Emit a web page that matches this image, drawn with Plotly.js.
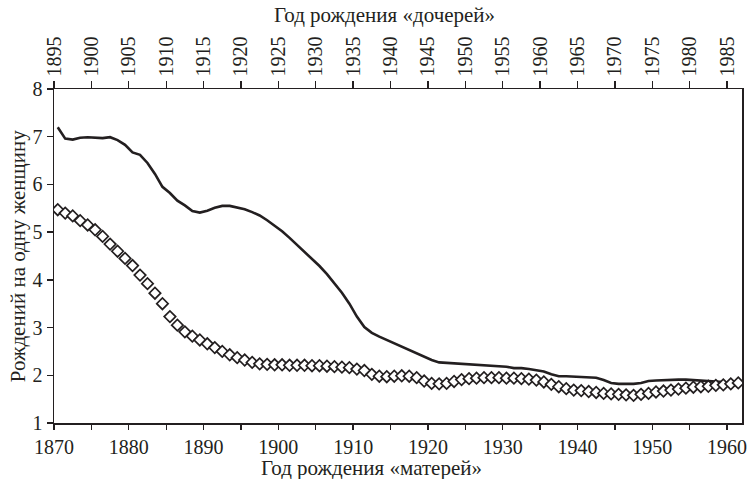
<!DOCTYPE html>
<html>
<head>
<meta charset="utf-8">
<script src="https://cdn.plot.ly/plotly-3.0.1.min.js"></script>
<style>html,body{margin:0;padding:0;background:#fff;}#chart{width:751px;height:479px;}</style>
</head>
<body>
<div id="chart"></div>
<script>
// Birth cohorts of "mothers" (1870–1961); daughters' cohort = mothers' + 25
const motherYears = [];
for (let y = 1870; y <= 1961; y++) motherYears.push(y);

// Solid line series (births per woman), cohorts 1870–1959
const lineValues = [
  7.20, 6.96, 6.94, 6.98, 6.99, 6.98, 6.97, 6.99, 6.93, 6.83,
  6.67, 6.62, 6.45, 6.22, 5.95, 5.82, 5.66, 5.56, 5.44, 5.41,
  5.45, 5.51, 5.55, 5.55, 5.52, 5.48, 5.42, 5.35, 5.25, 5.13,
  5.02, 4.88, 4.73, 4.59, 4.45, 4.29, 4.12, 3.93, 3.73, 3.50,
  3.23, 3.01, 2.89, 2.81, 2.74, 2.66, 2.59, 2.52, 2.46, 2.39,
  2.32, 2.27, 2.26, 2.25, 2.24, 2.23, 2.23, 2.22, 2.21, 2.20,
  2.18, 2.15, 2.15, 2.13, 2.11, 2.08, 2.02, 1.98, 1.98, 1.97,
  1.97, 1.95, 1.95, 1.90, 1.84, 1.82, 1.82, 1.82, 1.84, 1.88,
  1.89, 1.90, 1.90, 1.91, 1.91, 1.90, 1.89, 1.88, 1.87, 1.86
];

// Diamond marker series (births per woman), cohorts 1870–1961
const diamondValues = [
  5.47, 5.40, 5.34, 5.24, 5.15, 5.05, 4.91, 4.75, 4.60, 4.45,
  4.30, 4.10, 3.92, 3.72, 3.50, 3.23, 3.05, 2.91, 2.82, 2.74,
  2.66, 2.58, 2.50, 2.43, 2.37, 2.32, 2.27, 2.24, 2.23, 2.22,
  2.22, 2.21, 2.21, 2.21, 2.20, 2.20, 2.19, 2.18, 2.17, 2.16,
  2.13, 2.10, 2.02, 1.98, 1.97, 1.98, 1.99, 1.98, 1.95, 1.88,
  1.83, 1.82, 1.83, 1.87, 1.91, 1.93, 1.94, 1.95, 1.95, 1.95,
  1.94, 1.94, 1.93, 1.92, 1.90, 1.86, 1.81, 1.76, 1.72, 1.69,
  1.68, 1.66, 1.64, 1.62, 1.61, 1.60, 1.59, 1.58, 1.60, 1.62,
  1.65, 1.67, 1.69, 1.71, 1.73, 1.75, 1.76, 1.77, 1.79, 1.80,
  1.82, 1.84
];

const bottomTickVals = [1870,1875,1880,1885,1890,1895,1900,1905,1910,1915,1920,1925,1930,1935,1940,1945,1950,1955,1960];
const bottomTickText = ["1870","","1880","","1890","","1900","","1910","","1920","","1930","","1940","","1950","","1960"];

const xTitleBottom = "Год рождения «матерей»";
const xTitleTop = "Год рождения «дочерей»";
const yTitle = "Рождений на одну женщину";

const ink = "#231f20";
const serif = "Liberation Serif, Times New Roman, serif";

// cohort mid-year positions
const lineX = motherYears.slice(0, lineValues.length).map(y => y + 0.5);
const diamondX = motherYears.map(y => y + 0.5);

const traces = [
  {
    x: lineX, y: lineValues, type: "scatter", mode: "lines",
    line: {color: ink, width: 2.6}, hoverinfo: "skip", showlegend: false
  },
  {
    x: diamondX, y: diamondValues, type: "scatter", mode: "markers",
    marker: {symbol: "diamond", size: 8.8, color: "#ffffff", line: {color: ink, width: 1.7}},
    hoverinfo: "skip", showlegend: false
  },
  {
    x: [1895], y: [null], xaxis: "x2", type: "scatter", mode: "markers",
    hoverinfo: "skip", showlegend: false
  }
];

const layout = {
  width: 751, height: 479,
  margin: {l: 54, r: 9, t: 89, b: 56, pad: 0},
  paper_bgcolor: "#ffffff", plot_bgcolor: "#ffffff",
  font: {family: serif, size: 20, color: ink},
  showlegend: false,
  xaxis: {
    range: [1870, 1962], tickvals: bottomTickVals, ticktext: bottomTickText,
    ticks: "outside", ticklen: 5, tickwidth: 1.3, tickcolor: ink,
    showline: true, linecolor: ink, linewidth: 1.5, showgrid: false, zeroline: false,
    tickfont: {family: serif, size: 20, color: ink}
  },
  xaxis2: {
    overlaying: "x", side: "top", anchor: "y",
    range: [1895, 1987], dtick: 5, tick0: 1895, tickangle: -90,
    ticks: "outside", ticklen: 7, tickwidth: 1.3, tickcolor: ink,
    showline: true, linecolor: ink, linewidth: 1.5, showgrid: false, zeroline: false,
    tickfont: {family: serif, size: 20, color: ink}
  },
  yaxis: {
    range: [1, 8], dtick: 1, tick0: 1,
    ticks: "outside", ticklen: 6, tickwidth: 1.3, tickcolor: ink,
    showline: true, mirror: true, linecolor: ink, linewidth: 1.5, showgrid: false, zeroline: false,
    tickfont: {family: serif, size: 20, color: ink}
  },
  annotations: [
    {text: xTitleBottom, xref: "paper", yref: "paper", x: 0.462, y: -0.134, yanchor: "middle", xanchor: "center",
     showarrow: false, font: {family: serif, size: 21, color: ink}},
    {text: xTitleTop, xref: "paper", yref: "paper", x: 0.481, y: 1.222, yanchor: "middle", xanchor: "center",
     showarrow: false, font: {family: serif, size: 21, color: ink}},
    {text: yTitle, xref: "paper", yref: "paper", x: -0.052, y: 0.5, xanchor: "center", yanchor: "middle", textangle: -90,
     showarrow: false, font: {family: serif, size: 21, color: ink}}
  ]
};

Plotly.newPlot("chart", traces, layout, {displayModeBar: false, staticPlot: true});
</script>
</body>
</html>
